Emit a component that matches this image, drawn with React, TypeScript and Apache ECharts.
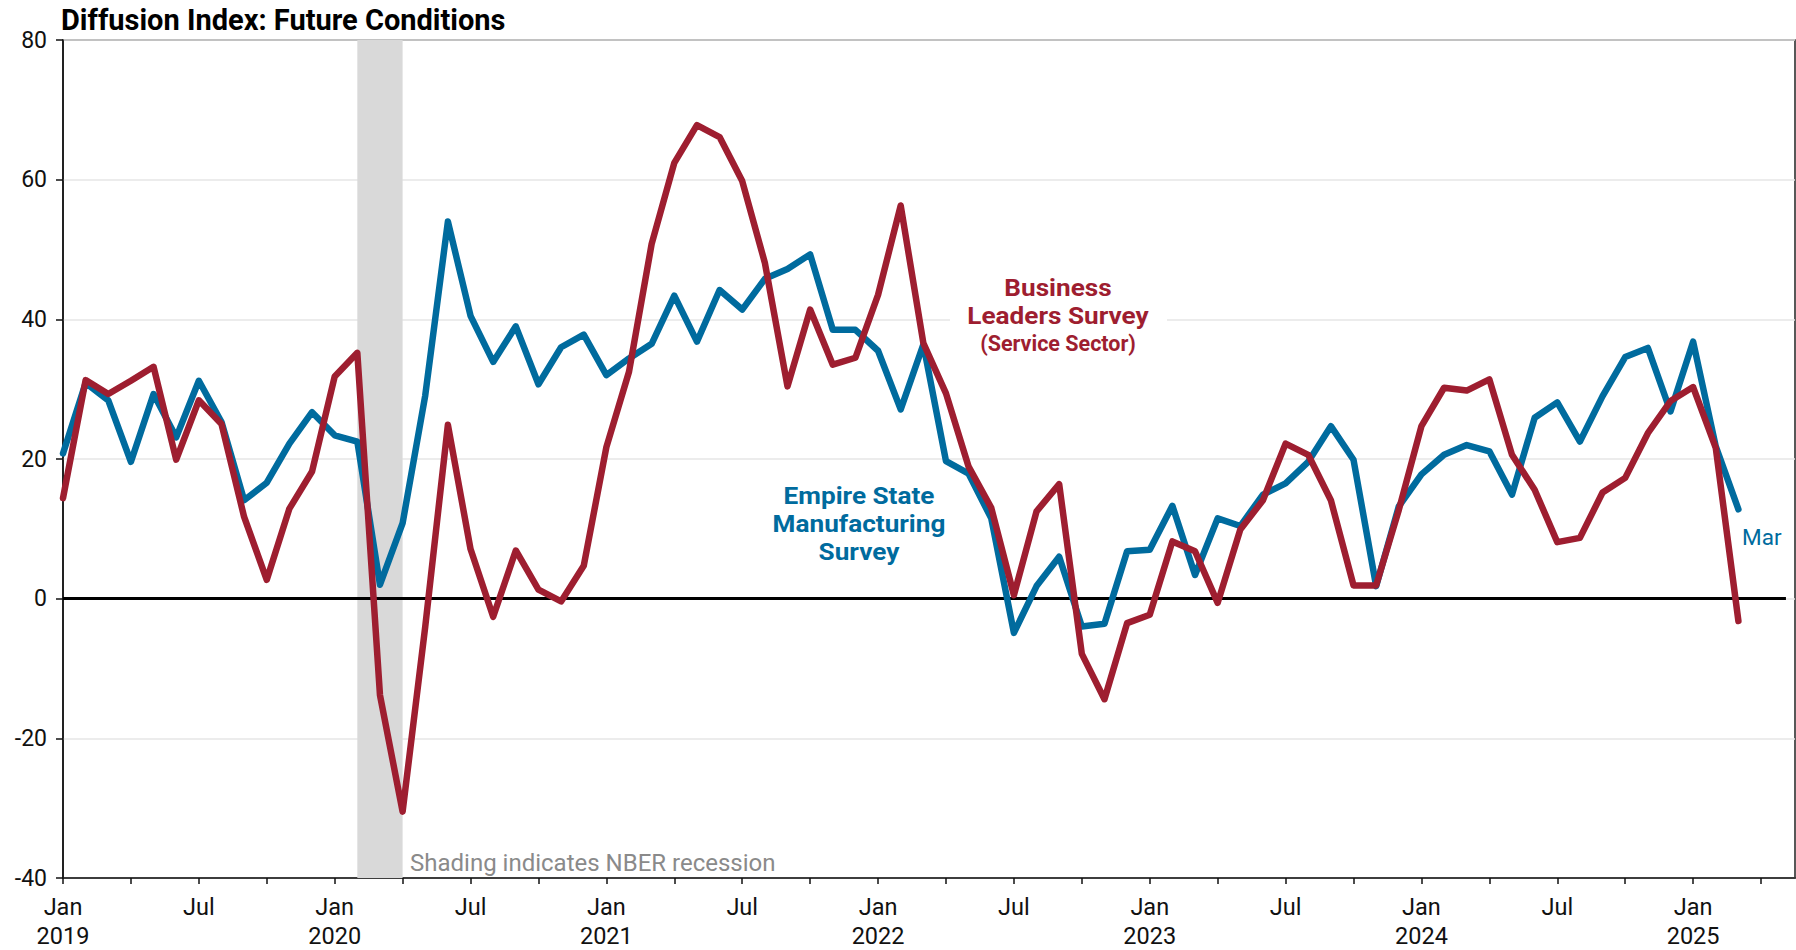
import React, { useEffect, useRef } from "react";
import * as echarts from "echarts";

// Monthly observations, Jan 2019 .. Mar 2025 (index 0 = Jan 2019)
const startYear = 2019;
const empireState: number[] = [
  20.8, 30.9, 28.4, 19.6, 29.3, 23.1, 31.2, 25.3, 14.1, 16.6, 22.2, 26.7,
  23.4, 22.5, 2.0, 10.8, 29.1, 54.0, 40.5, 33.9, 39.0, 30.7, 36.0, 37.8,
  32.0, 34.4, 36.5, 43.4, 36.8, 44.2, 41.4, 45.8, 47.2, 49.3, 38.5, 38.5,
  35.5, 27.1, 36.4, 19.7, 17.9, 11.5, -4.9, 1.8, 6.0, -4.0, -3.6, 6.8,
  7.0, 13.3, 3.4, 11.5, 10.4, 14.9, 16.5, 19.6, 24.7, 19.9, 1.8, 13.2,
  17.8, 20.6, 22.0, 21.1, 14.9, 25.9, 28.1, 22.5, 29.0, 34.6, 35.9, 26.8,
  36.8, 21.8, 12.8,
];
const businessLeaders: number[] = [
  14.4, 31.3, 29.3, 31.2, 33.2, 19.9, 28.4, 25.0, 11.7, 2.7, 12.9, 18.2,
  31.8, 35.2, -13.8, -30.5, -4.0, 24.9, 7.1, -2.6, 6.9, 1.3, -0.4, 4.7,
  21.7, 32.5, 50.8, 62.4, 67.8, 66.1, 59.8, 48.1, 30.4, 41.4, 33.5, 34.5,
  43.5, 56.3, 36.6, 29.4, 18.9, 13.0, 0.5, 12.5, 16.4, -7.9, -14.4, -3.5,
  -2.3, 8.2, 6.8, -0.6, 9.9, 14.1, 22.2, 20.6, 14.1, 1.9, 1.9, 12.7,
  24.7, 30.2, 29.8, 31.4, 20.6, 15.6, 8.1, 8.7, 15.2, 17.3, 23.7, 28.3,
  30.3, 21.6, -3.2,
];
// NBER recession: Feb 2020 .. Apr 2020 (month indices)
const recession: [number, number] = [13, 15];
const yTicks = { min: -40, max: 80, step: 20 };
const xMaxIndex = 76.5;
const zeroLineEnd = 76.1;

const BLUE = "#006b9e";
const RED = "#9e1e30";
const FONT = "Roboto, 'Noto Sans', sans-serif";

export default function App() {
  const ref = useRef<HTMLDivElement>(null);

  useEffect(() => {
    if (!ref.current) return;
    const chart = echarts.init(ref.current, undefined, { renderer: "svg" });

    const option: any = {
      animation: false,
      backgroundColor: "#ffffff",
      textStyle: { fontFamily: FONT },
      grid: {
        left: 63,
        right: 1,
        top: 40,
        bottom: 71,
        show: true,
        borderColor: "#222",
        borderWidth: 1.5,
        backgroundColor: "transparent",
      },
      xAxis: {
        type: "value",
        min: 0,
        max: xMaxIndex,
        interval: 3,
        axisLine: { onZero: false, lineStyle: { color: "#111", width: 1.5 } },
        axisTick: { show: true, length: 6, lineStyle: { color: "#111", width: 1.5 } },
        splitLine: { show: false },
        axisLabel: {
          show: true,
          showMaxLabel: false,
          margin: 14,
          fontSize: 23.5,
          lineHeight: 29,
          color: "#111",
          fontFamily: FONT,
          formatter: (v: number) => {
            if (Math.abs(v - Math.round(v)) > 1e-6) return "";
            const m = Math.round(v) % 12;
            const y = startYear + Math.floor(Math.round(v) / 12);
            if (m === 0) return "Jan\n" + y;
            if (m === 6) return "Jul";
            return "";
          },
        },
      },
      yAxis: {
        type: "value",
        min: yTicks.min,
        max: yTicks.max,
        interval: yTicks.step,
        axisLine: { show: true, lineStyle: { color: "#111", width: 1.5 } },
        axisTick: { show: true, length: 7, lineStyle: { color: "#111", width: 1.5 } },
        splitLine: { show: true, lineStyle: { color: "#e6e6e6", width: 1.5 } },
        axisLabel: { fontSize: 23, color: "#111", margin: 16, fontFamily: FONT },
      },
      series: [
        {
          name: "Empire State Manufacturing Survey",
          type: "line",
          z: 3,
          data: empireState.map((v, i) => [i, v]),
          showSymbol: false,
          symbol: "none",
          lineStyle: { color: BLUE, width: 6.5, join: "round", cap: "round" },
          itemStyle: { color: BLUE },
          markArea: {
            silent: true,
            z: 1,
            itemStyle: { color: "#d9d9d9" },
            data: [[{ xAxis: recession[0] }, { xAxis: recession[1] }]],
          },
        },
        {
          name: "Business Leaders Survey (Service Sector)",
          type: "line",
          z: 4,
          data: businessLeaders.map((v, i) => [i, v]),
          showSymbol: false,
          symbol: "none",
          lineStyle: { color: RED, width: 6.5, join: "round", cap: "round" },
          itemStyle: { color: RED },
          markLine: {
            silent: true,
            z: 2,
            symbol: "none",
            label: { show: false },
            lineStyle: { color: "#000", width: 3, type: "solid" },
            data: [[{ coord: [0, 0] }, { coord: [zeroLineEnd, 0] }]],
          },
        },
      ],
      graphic: [
        {
          type: "text",
          x: 61,
          y: 20,
          style: {
            text: "Diffusion Index: Future Conditions",
            fill: "#000",
            font: `bold 29px ${FONT}`,
            textAlign: "left",
            textVerticalAlign: "middle",
          },
        },
        {
          type: "text",
          x: 410,
          y: 863,
          style: {
            text: "Shading indicates NBER recession",
            fill: "#8a8a8a",
            font: `24px ${FONT}`,
            textAlign: "left",
            textVerticalAlign: "middle",
          },
        },
        {
          type: "rect",
          shape: { x: 950, y: 272, width: 217, height: 86 },
          style: { fill: "#ffffff" },
          z: 50,
        },
        {
          type: "text",
          x: 1058,
          y: 301.5,
          z: 60,
          scaleX: 1.09,
          style: {
            text: "Business\nLeaders Survey",
            fill: RED,
            font: `bold 24px ${FONT}`,
            lineHeight: 28,
            textAlign: "center",
            textVerticalAlign: "middle",
          },
        },
        {
          type: "text",
          x: 1058,
          y: 343,
          z: 60,
          style: { text: "(Service Sector)", fill: RED, font: `bold 21.5px ${FONT}`, lineHeight: 24, textAlign: "center", textVerticalAlign: "middle" },
        },
        {
          type: "text",
          x: 859,
          y: 524,
          z: 60,
          scaleX: 1.09,
          style: {
            text: "Empire State\nManufacturing\nSurvey",
            fill: BLUE,
            font: `bold 24px ${FONT}`,
            lineHeight: 28,
            textAlign: "center",
            textVerticalAlign: "middle",
          },
        },
        {
          type: "text",
          x: 1742,
          y: 537,
          z: 60,
          style: { text: "Mar", fill: BLUE, font: `22.5px ${FONT}`, textAlign: "left", textVerticalAlign: "middle" },
        },
      ],
    };

    chart.setOption(option);
    return () => chart.dispose();
  }, []);

  return (
    <div
      ref={ref}
      style={{ position: "absolute", left: 0, top: 0, width: 1796, height: 950 }}
    />
  );
}
